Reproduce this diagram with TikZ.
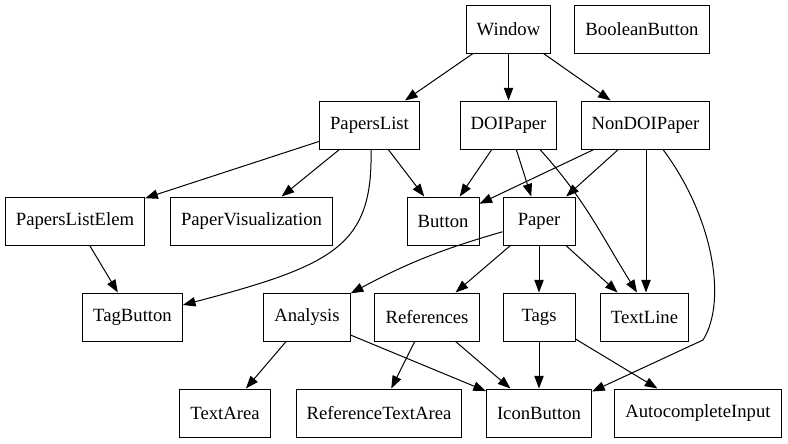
\documentclass[tikz,border=0pt]{standalone}
\usepackage{fontspec}
\setmainfont{Liberation Serif}
\newfontfamily\gvfont{Liberation Serif}
\usetikzlibrary{arrows.meta}
\tikzset{
  comp/.style={
    draw=black, line width=0.75pt, font=\gvfont\fontsize{14}{16}\selectfont,
    minimum width=54pt, minimum height=36pt, inner xsep=7.92pt, inner ysep=0pt
  },
  uses/.style={-{Triangle[length=9.5pt,width=7pt]}, line width=0.75pt, black}
}

\begin{document}
\begin{tikzpicture}[x=0.75pt, y=0.75pt]
  \useasboundingbox (0,0) rectangle (788,-443);

  % rank 1
  \node[comp] (win) at (508.5,-29) {Window};
  \node[comp] (bb)  at (642,-29)   {BooleanButton};
  % rank 2
  \node[comp] (pl)  at (369.5,-125) {PapersList};
  \node[comp] (doi) at (508.5,-125) {DOIPaper};
  \node[comp] (nd)  at (645.5,-125) {NonDOIPaper};
  % rank 3
  \node[comp] (ple) at (75,-221)    {PapersListElem};
  \node[comp] (pv)  at (251.5,-221) {PaperVisualization};
  \node[comp] (btn) at (443,-221)   {Button};
  \node[comp] (pa)  at (539,-221)   {Paper};
  % rank 4
  \node[comp] (tb)  at (132.5,-317) {TagButton};
  \node[comp] (an)  at (307,-317)   {Analysis};
  \node[comp] (ref) at (427,-317)   {References};
  \node[comp] (tg)  at (539,-317)   {Tags};
  \node[comp] (tl)  at (644.5,-317) {TextLine};
  % rank 5
  \node[comp] (ta)  at (225,-413)   {TextArea};
  \node[comp] (rta) at (379,-413)   {ReferenceTextArea};
  \node[comp] (ib)  at (539,-413)   {IconButton};
  \node[comp] (ai)  at (698,-413)   {AutocompleteInput};

  \draw[uses] (win) -- (pl);
  \draw[uses] (win) -- (doi);
  \draw[uses] (win) -- (nd);

  \draw[uses] (pl) -- (ple);
  \draw[uses] (pl) -- (pv);
  \draw[uses] (pl) -- (btn);
  \draw[uses] ([shift={(1.5,0)}]pl.south) .. controls +(2,-96) and +(152,40) .. ([shift={(0,12)}]tb.east);

  \draw[uses] (doi) -- (btn);
  \draw[uses] (doi) -- (pa);
  \draw[uses] ([shift={(31.5,0)}]doi.south) to[out=-48, in=122] ([shift={(-7.5,0)}]tl.north);

  \draw[uses] (nd) -- (btn);
  \draw[uses] (nd) -- (pa);
  \draw[uses] ([shift={(0.5,0)}]nd.south) -- ([shift={(1.5,0)}]tl.north);
  \draw[uses] ([shift={(17.5,0)}]nd.south) .. controls (712,-215) and (728,-300) .. (703,-340) -- ([shift={(0,-3)}]ib.north east);

  \draw[uses] (ple) -- (tb);

  \draw[uses] (pa) to[bend right=6] (an);
  \draw[uses] (pa) -- (ref);
  \draw[uses] (pa) -- (tg);
  \draw[uses] (pa) -- (tl);

  \draw[uses] (an) -- (ta);
  \draw[uses] (an) -- (ib);
  \draw[uses] (ref) -- (rta);
  \draw[uses] (ref) -- (ib);
  \draw[uses] (tg) -- (ib);
  \draw[uses] (tg) -- (ai);
\end{tikzpicture}
\end{document}
